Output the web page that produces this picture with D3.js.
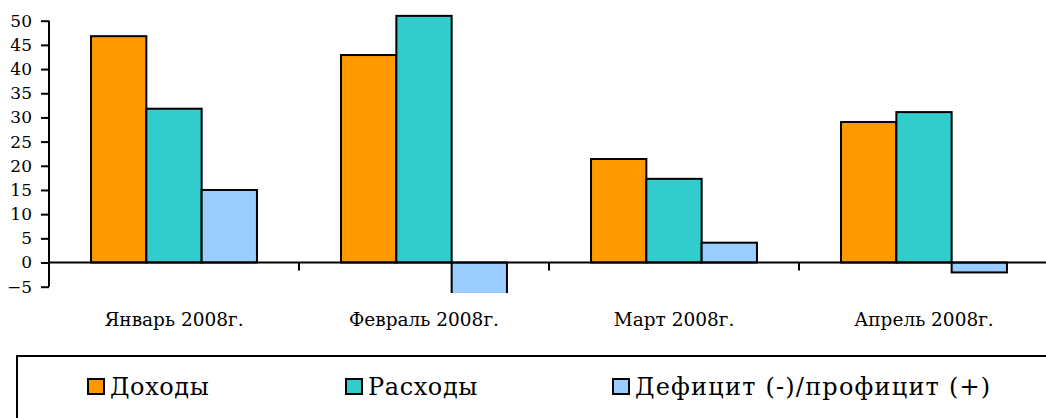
<!DOCTYPE html>
<html>
<head>
<meta charset="utf-8">
<script src="https://d3js.org/d3.v7.min.js"></script>
<style>
  body { margin: 0; background: #fff; }
  text { font-family: "DejaVu Serif", serif; fill: #000; }
</style>
</head>
<body>
<script>
const categories = ['Январь 2008г.', 'Февраль 2008г.', 'Март 2008г.', 'Апрель 2008г.'];
const seriesNames = ['Доходы', 'Расходы', 'Дефицит (-)/профицит (+)'];
const seriesColors = ['#FF9900', '#33CCCC', '#99CCFF'];
const income = [46.8, 42.9, 21.4, 29.05];
const expenses = [31.8, 51.0, 17.3, 31.1];
const balance = [15.0, -8.1, 4.1, -2.05];
const yTicks = [-5, 0, 5, 10, 15, 20, 25, 30, 35, 40, 45, 50];

const width = 1046, height = 418;
const values = [income, expenses, balance];
const serif = '"DejaVu Serif", serif';

const svg = d3.select('body').append('svg')
  .attr('width', width).attr('height', height);

const y = d3.scaleLinear().domain([-5, 50]).range([286.7, 20.7]);
const x0 = d3.scaleBand().domain(categories).range([49, 1049]);
const x1 = d3.scaleBand().domain(d3.range(3)).range([0, x0.bandwidth()]).paddingOuter(0.76);

svg.append('clipPath').attr('id', 'plot')
  .append('rect').attr('x', 49).attr('y', 10).attr('width', 1000).attr('height', 283);

const bars = svg.append('g').attr('clip-path', 'url(#plot)');
categories.forEach((c, i) => {
  values.forEach((s, j) => {
    const v = s[i];
    bars.append('rect')
      .attr('x', x0(c) + x1(j))
      .attr('y', y(Math.max(0, v)))
      .attr('width', x1.bandwidth())
      .attr('height', Math.abs(y(v) - y(0)))
      .attr('fill', seriesColors[j])
      .attr('stroke', '#000')
      .attr('stroke-width', 2);
  });
});

// y axis
const yAxis = svg.append('g').attr('transform', 'translate(49,0)')
  .attr('font-family', serif)
  .call(d3.axisLeft(y).tickValues(yTicks).tickSize(8).tickPadding(9));
yAxis.attr('font-family', serif).attr('font-size', 17);
yAxis.select('.domain').attr('stroke-width', 2).attr('d', `M0,${y(50)}V${y(-5)}`);
yAxis.selectAll('.tick line').attr('stroke-width', 2);
yAxis.selectAll('.tick text').style('font-family', serif).style('font-size', '17px');

// zero line with category ticks
svg.append('line').attr('x1', 48).attr('x2', width).attr('y1', y(0)).attr('y2', y(0))
  .attr('stroke', '#000').attr('stroke-width', 2);
svg.selectAll('.ctick').data(categories.slice(1)).enter().append('line')
  .attr('x1', d => x0(d)).attr('x2', d => x0(d))
  .attr('y1', y(0)).attr('y2', y(0) + 8)
  .attr('stroke', '#000').attr('stroke-width', 2);

svg.selectAll('.clabel').data(categories).enter().append('text')
  .attr('x', d => x0(d) + x0.bandwidth() / 2)
  .attr('y', 326)
  .attr('text-anchor', 'middle')
  .style('font-size', '18.5px')
  .text(d => d);

// legend
svg.append('rect').attr('x', 17).attr('y', 356).attr('width', 1100).attr('height', 100)
  .attr('fill', 'none').attr('stroke', '#000').attr('stroke-width', 2);
const legendX = [88, 346, 613];
seriesNames.forEach((n, j) => {
  svg.append('rect').attr('x', legendX[j]).attr('y', 379).attr('width', 16).attr('height', 15)
    .attr('fill', seriesColors[j]).attr('stroke', '#000').attr('stroke-width', 2);
  svg.append('text').attr('x', legendX[j] + 22).attr('y', 395)
    .style('font-size', '24px')
    .style('letter-spacing', j === 2 ? '1.2px' : '0.6px')
    .text(n);
});
</script>
</body>
</html>
